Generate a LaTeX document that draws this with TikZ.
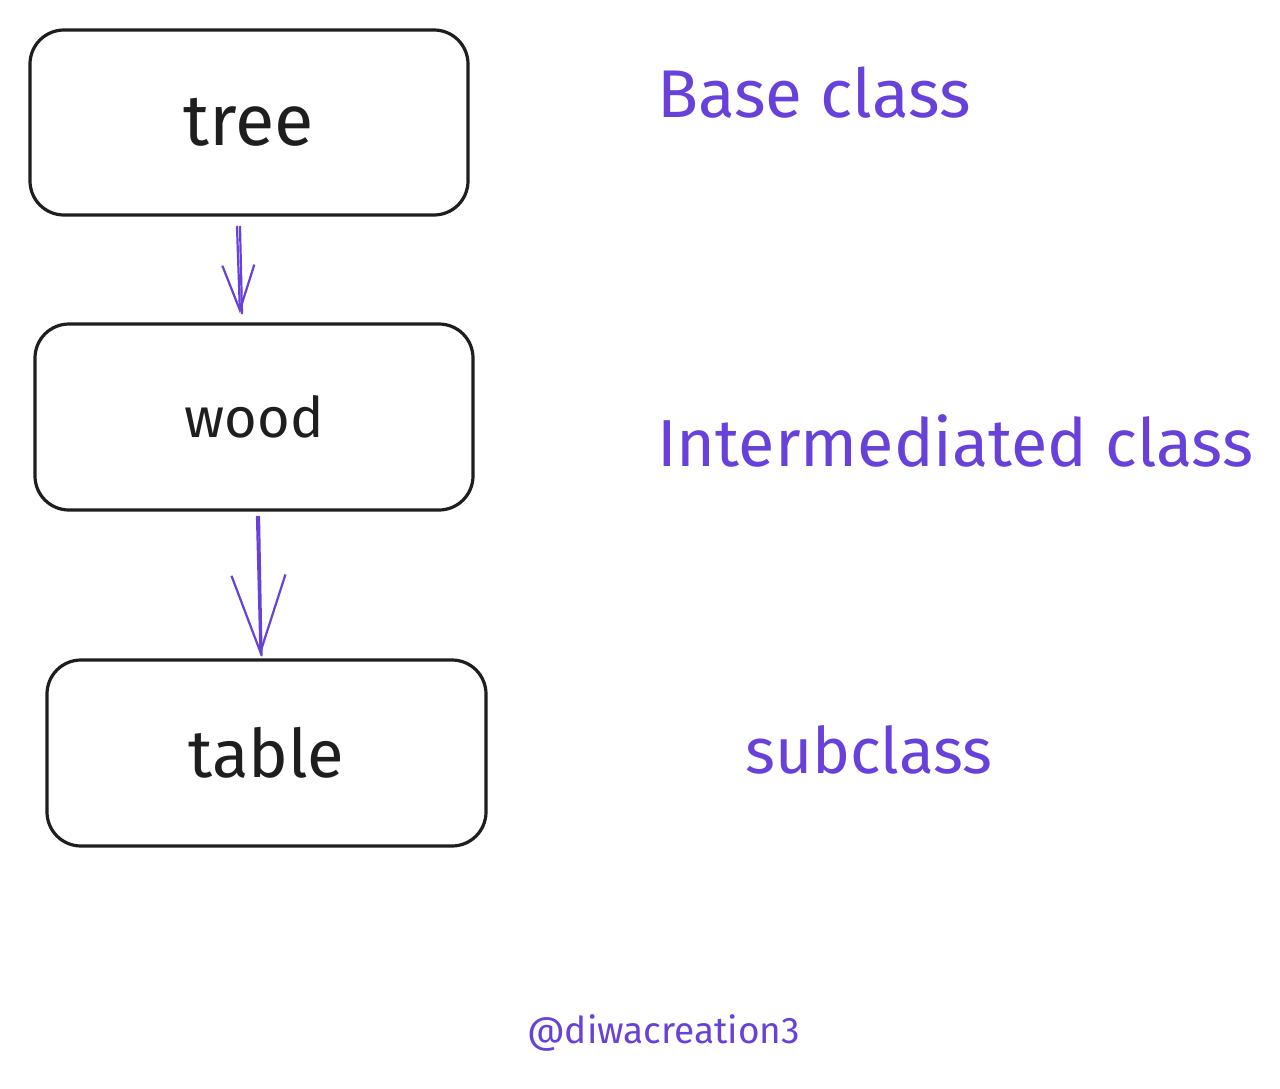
\documentclass[tikz,border=0pt]{standalone}
\usepackage{fontspec}
\setmainfont{Fira Sans}
\usetikzlibrary{arrows.meta}
\definecolor{ink}{HTML}{1E1E1E}
\definecolor{violet}{HTML}{6741D9}
\tikzset{
  classbox/.style={draw=ink, line width=3.2pt, rounded corners=34pt, inner sep=0pt, text=ink},
  note/.style={text=violet, anchor=base west, inner sep=0pt},
  arr/.style={draw=violet, line width=2.2pt, line cap=round},
}
\begin{document}
\begin{tikzpicture}[x=1pt,y=-1pt]
\useasboundingbox (0,0) rectangle (1280,1089);
\fill[white] (0,0) rectangle (1280,1089);
% boxes
\node[classbox, minimum width=438pt, minimum height=185pt, font=\fontsize{72}{80}\selectfont] (tree) at (249,122.5) {tree};
\node[classbox, minimum width=438pt, minimum height=186pt, font=\fontsize{56}{64}\selectfont] (wood) at (254,417) {wood};
\node[classbox, minimum width=439pt, minimum height=186pt, font=\fontsize{67}{75}\selectfont] (table) at (266.5,753) {table};
% arrows
\draw[arr, -{Straight Barb[length=45pt,width=32pt]}] ([xshift=-12pt,yshift=-10pt]tree.south) -- ([xshift=-14pt,yshift=9pt]wood.north);
\draw[arr] ([xshift=-9pt,yshift=-10pt]tree.south) -- ([xshift=-12pt,yshift=9pt]wood.north);
\draw[arr, -{Straight Barb[length=77pt,width=54pt]}] ([xshift=3pt,yshift=-5pt]wood.south) -- ([xshift=-6pt,yshift=3pt]table.north);
\draw[arr] ([xshift=5pt,yshift=-5pt]wood.south) -- ([xshift=-5pt,yshift=3pt]table.north);
% labels
\node[note, font=\fontsize{67.5}{75}\selectfont] (base) at (657,118) {Base class};
\node[note, font=\fontsize{66.5}{74}\selectfont] (inter) at (657,466) {Intermediated class};
\node[note, font=\fontsize{64}{72}\selectfont] (sub) at (745,773) {subclass};
\node[note, font=\fontsize{37}{44}\selectfont] (credit) at (527,1043) {@diwacreation3};
\end{tikzpicture}
\end{document}
